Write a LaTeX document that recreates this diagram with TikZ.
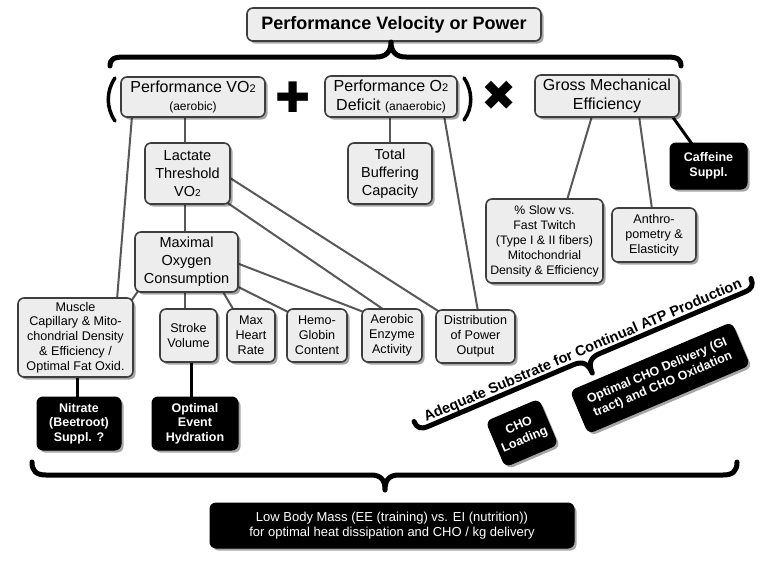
\documentclass[tikz,border=0pt]{standalone}
\usepackage{fontspec}
\setmainfont{Liberation Sans}
\newfontfamily\symfont{DejaVu Sans}
\usetikzlibrary{shadows,calc}
\definecolor{boxfill}{RGB}{237,237,237}
\definecolor{boxline}{RGB}{62,62,62}
\definecolor{linkgray}{RGB}{88,88,88}
\pgfdeclarelayer{bg}
\pgfsetlayers{bg,main}
\newcommand{\fsz}[2]{\fontsize{#1}{#2}\selectfont}
\tikzset{
  shd/.style={drop shadow={shadow xshift=2.5pt, shadow yshift=-2.5pt, opacity=0.35, fill=black}},
  box/.style={draw=boxline, line width=1.6pt, fill=boxfill, rounded corners=6pt, align=center, inner sep=2pt, shd},
  dbox/.style={draw=black, line width=1pt, fill=black, text=white, rounded corners=6pt, align=center, inner sep=2pt, font=\bfseries\fsz{12.5}{14.7}, shd},
  topf/.style={font=\fsz{16}{18.5}},
  midf/.style={font=\fsz{14.5}{18}},
  smf/.style={font=\fsz{12.6}{14.8}},
  link/.style={draw=linkgray, line width=2pt},
  blink/.style={draw=black, line width=3pt},
  bracel/.style={line width=5pt, line cap=round, line join=round},
  sz/.style 2 args={minimum width=#1pt, minimum height=#2pt},
}
\begin{document}
\begin{tikzpicture}[x=1pt,y=-1pt]
\useasboundingbox (0,0) rectangle (767,562);
\begin{pgfonlayer}{bg}
\fill[white] (0,0) rectangle (767,562);
\end{pgfonlayer}

% top level
\node[box, font=\bfseries\fsz{18}{20}, sz={294}{33}] (title) at (394,24.5) {Performance Velocity or Power};
\node[box, topf, sz={144}{40}] (vo2) at (193,97) {Performance VO{\fsz{11}{11}2}\\{\fsz{12}{14}(aerobic)}};
\node[box, topf, sz={132}{41}] (o2) at (391,96.5) {Performance O{\fsz{11}{11}2}\\Deficit {\fsz{12}{14}(anaerobic)}};
\node[box, topf, sz={144}{42}] (gme) at (607,96) {Gross Mechanical\\Efficiency};
\node[font=\symfont\fsz{42}{42}, inner sep=0pt] (plus) at (293,97) {✚};
\node[font=\symfont\fsz{42}{42}, inner sep=0pt] (times) at (499,96) {✖};

% parentheses
\draw[line width=3.5pt, line cap=round] (115,78) .. controls (106,91) and (106,108) .. (115,121);
\draw[line width=3.5pt, line cap=round] (464,78) .. controls (473,91) and (473,108) .. (464,120);

% top brace
\draw[bracel] (110,66) .. controls (110,59) and (114,57) .. (124,57) -- (376,57)
  .. controls (386,57) and (391,52) .. (391,42) .. controls (391,52) and (396,57) .. (406,57)
  -- (667,57) .. controls (677,57) and (681,59) .. (681,66);

% second level
\node[box, midf, sz={85}{61}] (lactate) at (187.5,173.5) {Lactate\\Threshold\\VO{\fsz{10}{10}2}};
\node[box, midf, sz={84}{61}] (buffer) at (390,173.5) {Total\\Buffering\\Capacity};
\node[box, midf, sz={103}{60}] (maximal) at (186.5,262) {Maximal\\Oxygen\\Consumption};
\node[dbox, sz={77}{46}] (caffeine) at (708.5,166) {Caffeine\\Suppl.};
\node[box, font=\fsz{12.3}{15}, sz={117}{84}] (slow) at (544.5,241) {\% Slow vs.\\Fast Twitch\\(Type I \& II fibers)\\Mitochondrial\\Density \& Efficiency};
\node[box, smf, sz={84}{54}] (anthro) at (654,235) {Anthro-\\pometry \&\\Elasticity};

% bottom row
\node[box, smf, sz={115}{79}] (muscle) at (75.5,337.5) {Muscle\\Capillary \& Mito-\\chondrial Density\\\& Efficiency /\\Optimal Fat Oxid.};
\node[box, smf, sz={57}{53}] (stroke) at (188.5,335.5) {Stroke\\Volume};
\node[box, smf, sz={48}{53}] (maxhr) at (251,335.5) {Max\\Heart\\Rate};
\node[box, smf, sz={60}{53}] (hemo) at (317,335.5) {Hemo-\\Globin\\Content};
\node[box, smf, sz={60}{53}] (aerobic) at (392,335.5) {Aerobic\\Enzyme\\Activity};
\node[box, smf, sz={79}{53}] (dist) at (475.5,336.5) {Distribution\\of Power\\Output};
\node[dbox, sz={84}{53}] (nitrate) at (79,423.5) {Nitrate\\(Beetroot)\\Suppl. ?};
\node[dbox, sz={86}{53}] (hydration) at (195,423.5) {Optimal\\Event\\Hydration};

% substrate
\node[rotate=23, anchor=base, font=\bfseries\fsz{14.5}{16}, inner sep=0pt] (adeq) at (584.5,354.6) {Adequate Substrate for Continual ATP Production};
\begin{scope}[shift={(582.5,350)}, rotate=23]
\draw[bracel] (-183,0) .. controls (-183,7) and (-180,10) .. (-172,10) -- (-14,10)
  .. controls (-4,10) and (0,15) .. (0,25) .. controls (0,15) and (4,10) .. (14,10)
  -- (172,10) .. controls (180,10) and (183,7) .. (183,0);
\end{scope}
\node[dbox, rotate=23, sz={57}{49}] (choload) at (522,433) {CHO\\Loading};
\node[dbox, rotate=23, sz={175}{46}] (chodel) at (660,378) {Optimal CHO Delivery (GI\\tract) and CHO Oxidation};

% bottom brace and box
\draw[bracel] (32,462) .. controls (32,471) and (36,475) .. (46,475) -- (371,475)
  .. controls (381,475) and (385,480) .. (385,490) .. controls (385,480) and (389,475) .. (399,475)
  -- (723,475) .. controls (733,475) and (737,471) .. (737,462);
\node[dbox, font=\fsz{13}{15.5}, sz={364}{45}] (mass) at (392,525.5) {Low Body Mass (EE (training) vs. EI (nutrition))\\for optimal heat dissipation and CHO / kg delivery};

% connectors
\begin{pgfonlayer}{bg}
\draw[link] ($(vo2)+(-61,19)$) -- ($(muscle)+(41.5,-38)$);
\draw[link] ($(vo2)+(-8,19)$) -- ($(lactate)+(-2.5,-29)$);
\draw[link] ($(lactate)+(-2.5,29)$) -- ($(maximal)+(-1.5,-29)$);
\draw[link] ($(lactate)+(41,3.5)$) -- ($(dist)+(-35,-24)$);
\draw[link] ($(lactate)+(38,28)$) -- ($(aerobic)+(-7,-25)$);
\draw[link] ($(maximal)+(50,1)$) -- ($(aerobic)+(-27,-23)$);
\draw[link] ($(maximal)+(48,23)$) -- ($(hemo)+(-28,-23)$);
\draw[link] ($(maximal)+(36,29)$) -- ($(maxhr)+(-17,-25)$);
\draw[link] ($(maximal)+(-1.5,29)$) -- ($(stroke)+(-3.5,-25)$);
\draw[link] ($(maximal)+(-47,27)$) -- ($(muscle)+(56,-37)$);
\draw[link] ($(o2)+(-1,19)$) -- ($(buffer)+(0,-29)$);
\draw[link] ($(o2)+(53,19)$) -- ($(dist)+(2.5,-25)$);
\draw[link] ($(gme)+(-15,20)$) -- ($(slow)+(22.5,-41)$);
\draw[link] ($(gme)+(32,20)$) -- ($(anthro)+(-2,-26)$);
\draw[blink] ($(gme)+(65,20)$) -- ($(caffeine)+(-16.5,-22)$);
\draw[blink] ($(muscle)+(1.5,38)$) -- ($(nitrate)+(-2,-25)$);
\draw[blink] ($(stroke)+(2.5,25)$) -- ($(hydration)+(-4,-25)$);
\end{pgfonlayer}
\end{tikzpicture}
\end{document}
